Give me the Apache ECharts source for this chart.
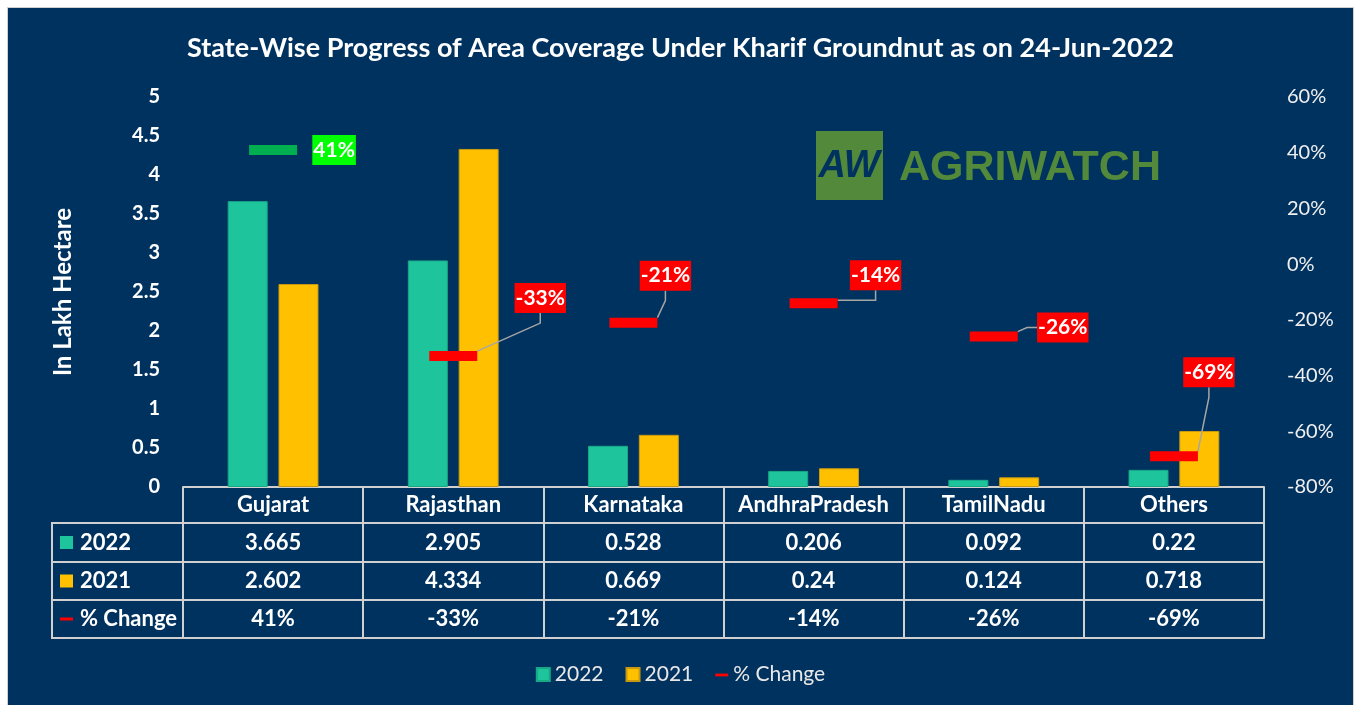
<!DOCTYPE html>
<html>
<head>
<meta charset="utf-8">
<script src="https://cdn.jsdelivr.net/npm/echarts@6/dist/echarts.min.js"></script>
<style>
  body { margin: 0; background: #fff; }
  #chart { position: absolute; left: 7px; top: 7px; width: 1345px; height: 698px; border: 1px solid #d0d0d0; }
</style>
</head>
<body>
<div id="chart"></div>
<script>
  // data
  var categories = ['Gujarat', 'Rajasthan', 'Karnataka', 'AndhraPradesh', 'TamilNadu', 'Others']
  var area2022 = [3.665, 2.905, 0.528, 0.206, 0.092, 0.22]
  var area2021 = [2.602, 4.334, 0.669, 0.24, 0.124, 0.718]
  var pctChange = [41, -33, -21, -14, -26, -69]
  var leftAxis = { min: 0, max: 5, interval: 0.5 }
  var rightAxis = { min: -80, max: 60, interval: 20 }

  // label offsets for the % change callouts (dx, dy from marker)
  var labelShift = [[61, 0], [87, -58], [32, -47], [62, -28], [69, -9], [35, -84]]

  var FONT = 'Lato, "Open Sans", sans-serif'
  var NAVY = '#00325f'
  var TEAL = '#1ec49c'
  var GOLD = '#ffc000'
  var RED = '#ff0000'
  var LINE = '#d0d0d0'

  var gridLeft = 175, gridRight = 89, gridTop = 89, gridBottom = 219
  var rowOffsets = [0, 36, 75, 113, 151]
  var plotBottom = 698 - gridBottom

  function tableAxis (offset, rowH, labels) {
    return {
      type: 'category',
      data: categories,
      position: 'bottom',
      offset: offset,
      axisLine: { show: true, onZero: false, lineStyle: { color: LINE, width: 2 } },
      axisTick: { show: rowH > 0, length: rowH, interval: 0, lineStyle: { color: LINE, width: 2 } },
      axisLabel: {
        show: !!labels,
        interval: 0,
        margin: Math.round(rowH / 2 - 11),
        color: '#fff',
        fontFamily: FONT,
        fontWeight: 'bold',
        fontSize: 22,
        lineHeight: 22,
        formatter: function (v, i) { return labels ? String(labels[i]) : '' }
      },
      splitLine: { show: false }
    }
  }

  var rowHeads = [
    { name: '2022', color: TEAL, key: 'box' },
    { name: '2021', color: GOLD, key: 'box' },
    { name: '% Change', color: RED, key: 'line' }
  ]
  var headGraphics = []
  var headX = 44, headW = gridLeft - 44
  for (var r = 0; r < 3; r++) {
    var y0 = plotBottom + rowOffsets[r + 1]
    var y1 = plotBottom + rowOffsets[r + 2]
    headGraphics.push({
      type: 'rect',
      shape: { x: headX, y: y0, width: headW, height: y1 - y0 },
      style: { fill: 'none', stroke: LINE, lineWidth: 2 }
    })
    var midY = (y0 + y1) / 2
    if (rowHeads[r].key === 'box') {
      headGraphics.push({ type: 'rect', shape: { x: 52, y: midY - 6.5, width: 13, height: 13 }, style: { fill: rowHeads[r].color } })
    } else {
      headGraphics.push({ type: 'rect', shape: { x: 52, y: midY - 1.5, width: 13, height: 3 }, style: { fill: rowHeads[r].color } })
    }
    headGraphics.push({
      type: 'text',
      x: 72, y: midY,
      style: { text: rowHeads[r].name, fill: '#fff', font: 'bold 22px ' + FONT, verticalAlign: 'middle' }
    })
  }

  var pctData = pctChange.map(function (v, i) {
    var item = { value: v }
    if (v > 0) {
      item.itemStyle = { color: '#00b050' }
      item.label = { backgroundColor: '#00ff00' }
      item.labelLine = { show: false }
    }
    return item
  })

  var myChart = echarts.init(document.getElementById('chart'))
  myChart.setOption({
    backgroundColor: NAVY,
    animation: false,
    title: {
      text: 'State-Wise Progress of Area Coverage Under Kharif Groundnut as on 24-Jun-2022',
      left: 'center',
      top: 22,
      textStyle: { color: '#fff', fontFamily: FONT, fontWeight: 'bold', fontSize: 27 }
    },
    legend: {
      bottom: 16,
      left: 'center',
      itemWidth: 13,
      itemHeight: 13,
      itemGap: 22,
      textStyle: { color: '#e8e8e8', fontFamily: FONT, fontSize: 21 },
      data: [
        { name: '2022', icon: 'rect' },
        { name: '2021', icon: 'rect' },
        { name: '% Change', icon: 'path://M0,0M0,6h14v3h-14zM14,14' }
      ]
    },
    grid: { left: gridLeft, right: gridRight, top: gridTop, bottom: gridBottom },
    xAxis: [
      tableAxis(rowOffsets[0], 36, categories),
      tableAxis(rowOffsets[1], 39, area2022),
      tableAxis(rowOffsets[2], 38, area2021),
      tableAxis(rowOffsets[3], 38, pctChange.map(function (v) { return v + '%' })),
      tableAxis(rowOffsets[4], 0, null)
    ],
    yAxis: [
      {
        type: 'value',
        min: leftAxis.min, max: leftAxis.max, interval: leftAxis.interval,
        name: 'In Lakh Hectare',
        nameLocation: 'middle',
        nameGap: 108,
        nameRotate: 90,
        nameTextStyle: { color: '#fff', fontFamily: FONT, fontWeight: 'bold', fontSize: 24 },
        axisLine: { show: false },
        axisTick: { show: false },
        splitLine: { show: false },
        axisLabel: { color: '#fff', fontFamily: FONT, fontWeight: 'bold', fontSize: 20, margin: 23 }
      },
      {
        type: 'value',
        min: rightAxis.min, max: rightAxis.max, interval: rightAxis.interval,
        axisLine: { show: false },
        axisTick: { show: false },
        splitLine: { show: false },
        axisLabel: { color: '#f0f0f0', fontFamily: FONT, fontSize: 20, margin: 23, formatter: '{value}%' }
      }
    ],
    graphic: headGraphics.concat([
      { type: 'rect', shape: { x: 808, y: 123, width: 67, height: 69 }, style: { fill: '#52893a' }, z: 0 },
      { type: 'text', x: 841, y: 159, style: { text: 'AW', fill: NAVY, font: 'italic bold 38px "Liberation Sans", Arial', align: 'center', verticalAlign: 'middle' }, z: 1 },
      { type: 'text', x: 891, y: 160, style: { text: 'AGRIWATCH', fill: '#52893a', font: 'bold 43px "Liberation Sans", Arial', verticalAlign: 'middle' }, z: 0 }
    ]),
    series: [
      {
        name: '2022',
        type: 'bar',
        data: area2022,
        barWidth: 40,
        barGap: '27%',
        itemStyle: { color: TEAL, borderColor: '#18a886', borderWidth: 1 }
      },
      {
        name: '2021',
        type: 'bar',
        data: area2021,
        barWidth: 40,
        itemStyle: { color: GOLD, borderColor: '#c99a10', borderWidth: 1 }
      },
      {
        name: '% Change',
        type: 'scatter',
        yAxisIndex: 1,
        symbol: 'rect',
        symbolSize: [48, 10],
        itemStyle: { color: RED, opacity: 1 },
        z: 5,
        data: pctData,
        label: {
          show: true,
          position: 'inside',
          color: '#fff',
          fontFamily: FONT,
          fontWeight: 'bold',
          fontSize: 21,
          backgroundColor: RED,
          padding: [5, 1, 4, 1],
          formatter: function (p) { return p.value + '%' }
        },
        labelLine: { show: true, length2: 10, lineStyle: { color: '#a6a6a6', width: 1.5 } },
        labelLayout: function (p) {
          var s = labelShift[p.dataIndex]
          return { dx: s[0], dy: s[1] }
        }
      }
    ]
  })
</script>
</body>
</html>
